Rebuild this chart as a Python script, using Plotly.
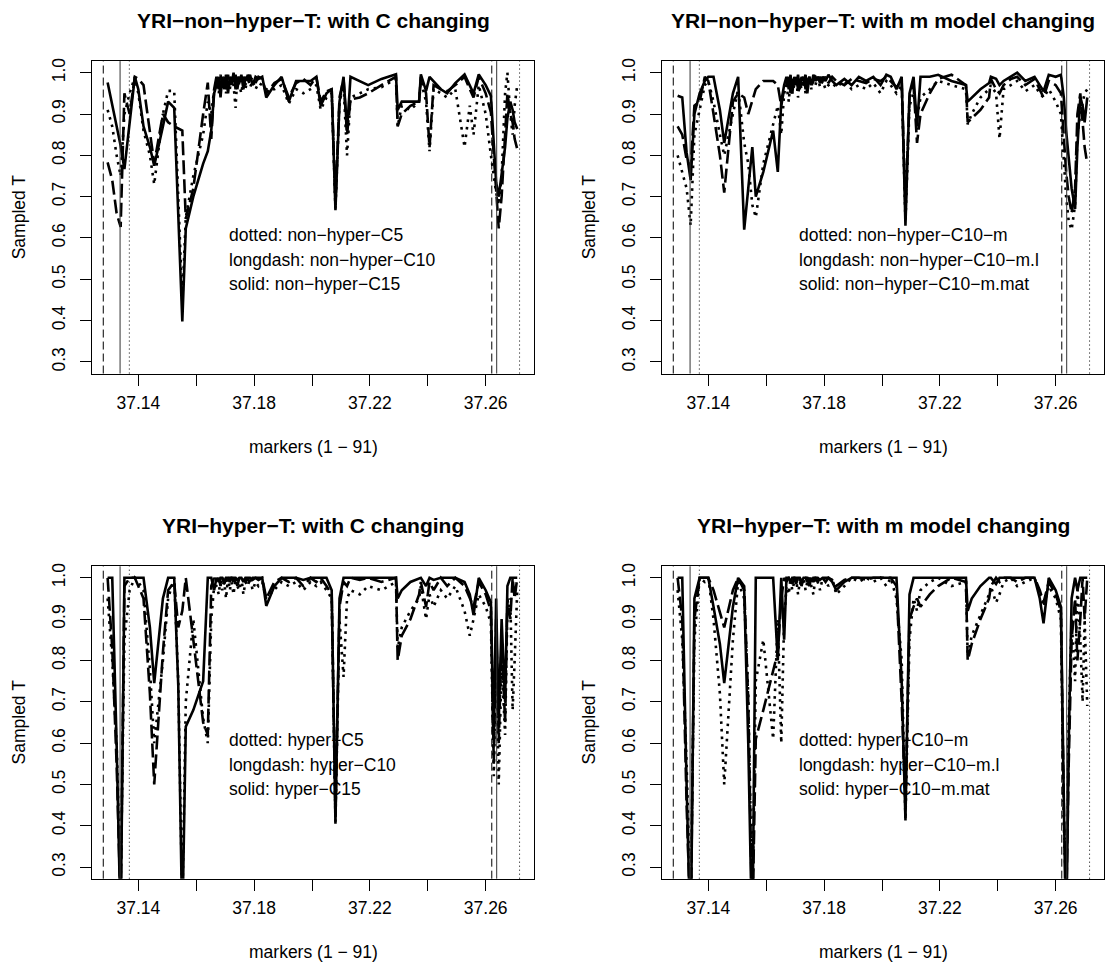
import plotly.graph_objects as go

# marker positions (Mb), 91 markers
pos = [
    37.1294, 37.1310, 37.1325, 37.1339, 37.1352, 37.1370, 37.1388, 37.1400, 37.1418, 37.1440,
    37.1455, 37.1485, 37.1503, 37.1524, 37.1538, 37.1552, 37.1564, 37.1590, 37.1624, 37.1640,
    37.1652, 37.1662,
    37.1670, 37.1678, 37.1684, 37.1690, 37.1697, 37.1703, 37.1710, 37.1716, 37.1722, 37.1729,
    37.1736, 37.1742, 37.1749, 37.1756, 37.1763, 37.1770, 37.1778, 37.1786, 37.1795, 37.1805,
    37.1815, 37.1828,
    37.1842, 37.1870, 37.1895, 37.1920, 37.1945, 37.1970, 37.1995, 37.2015, 37.2030, 37.2050,
    37.2068, 37.2081, 37.2095, 37.2109, 37.2121, 37.2133, 37.2165, 37.2194, 37.2240, 37.2290,
    37.2296, 37.2310, 37.2340, 37.2370, 37.2376, 37.2394, 37.2406, 37.2420, 37.2445, 37.2467,
    37.2495, 37.2527, 37.2545, 37.2558, 37.2576, 37.2600, 37.2618,
    37.2628, 37.2636, 37.2645, 37.2655, 37.2667, 37.2675, 37.2685, 37.2693, 37.2700, 37.2709,
]

# non-hyper, C changing
nh_c5 = [
    0.91, 0.87, 0.80, 0.75, 0.90, 0.95, 0.99, 0.95, 0.86, 0.80, 0.73, 0.90, 0.956, 0.956, 0.70, 0.445,
    0.65, 0.75, 0.85, 0.93, 0.90, 0.96,
    0.98, 0.95, 0.99, 0.96, 0.985, 0.95, 0.99, 0.96, 0.985, 0.97, 0.915, 0.99, 0.97, 0.95, 0.985,
    0.96, 0.99, 0.965, 0.98, 0.96, 0.975, 0.97,
    0.96, 0.96, 0.97, 0.925, 0.96, 0.95, 0.96, 0.97, 0.91, 0.94, 0.95, 0.67, 0.93, 0.97, 0.80, 0.94,
    0.95, 0.96, 0.965, 0.985, 0.87, 0.92, 0.91, 0.93, 0.98, 0.93, 0.81, 0.96, 0.95, 0.94, 0.96, 0.82,
    0.92, 0.85, 0.97, 0.90, 0.80,
    0.75, 0.71, 0.68, 0.75, 0.95, 1.0, 0.90, 0.85, 0.92, 0.97,
]
nh_c10 = [
    0.783, 0.74, 0.66, 0.627, 0.95, 0.90, 0.99, 0.985, 0.97, 0.85, 0.78, 0.90, 0.88, 0.87, 0.865, 0.86,
    0.646, 0.72, 0.90, 0.976, 0.84, 0.96,
    0.99, 0.96, 0.995, 0.97, 0.99, 0.96, 0.995, 0.97, 0.99, 0.975, 0.995, 0.96, 0.99, 0.98, 0.99,
    0.97, 0.995, 0.98, 0.99, 0.975, 0.99, 0.985,
    0.95, 0.975, 0.985, 0.94, 0.975, 0.985, 0.97, 0.99, 0.93, 0.955, 0.96, 0.68, 0.94, 0.985, 0.85,
    0.935, 0.94, 0.95, 0.97, 0.99, 0.87, 0.90, 0.92, 0.93, 0.99, 0.95, 0.82, 0.97, 0.96, 0.955, 0.97,
    0.99, 0.96, 0.94, 0.99, 0.95, 0.904,
    0.80, 0.70, 0.623, 0.70, 0.85, 0.95, 0.90, 0.88, 0.84, 0.815,
]
nh_c15 = [
    0.976, 0.92, 0.87, 0.823, 0.767, 0.88, 0.99, 0.96, 0.87, 0.82, 0.775, 0.87, 0.93, 0.915, 0.66,
    0.398, 0.623, 0.70, 0.78, 0.81, 0.86, 0.95,
    0.97, 0.99, 0.94, 0.99, 0.96, 0.995, 0.95, 0.99, 0.97, 1.0, 0.96, 0.99, 0.975, 0.995, 0.96,
    0.99, 0.98, 0.995, 0.97, 0.99, 0.985, 0.99,
    0.94, 0.97, 0.99, 0.93, 0.98, 0.98, 0.98, 0.99, 0.92, 0.95, 0.96, 0.667, 0.93, 0.99, 0.86, 0.99,
    0.98, 0.97, 0.985, 0.996, 0.91, 0.93, 0.93, 0.93, 0.996, 0.956, 0.99, 0.98, 0.96, 0.95, 0.975,
    0.996, 0.97, 0.95, 0.996, 0.97, 0.944,
    0.84, 0.735, 0.70, 0.76, 0.82, 0.89, 0.93, 0.91, 0.88, 0.864,
]

# non-hyper, m model changing
nh_m = [
    0.80, 0.76, 0.72, 0.63, 0.85, 0.91, 0.97, 0.98, 0.93, 0.85, 0.80, 0.90, 0.96, 0.83, 0.78, 0.68,
    0.65, 0.78, 0.88, 0.92, 0.85, 0.95,
    0.97, 0.93, 0.985, 0.95, 0.97, 0.99, 0.94, 0.98, 0.96, 0.99, 0.95, 0.975, 0.99, 0.96, 0.98,
    0.97, 0.99, 0.965, 0.98, 0.96, 0.97, 0.975,
    0.965, 0.98, 0.96, 0.97, 0.96, 0.975, 0.95, 0.98, 0.97, 0.95, 0.97, 0.64, 0.92, 0.95, 0.89, 0.94,
    0.96, 0.98, 0.97, 0.96, 0.875, 0.90, 0.94, 0.96, 0.97, 0.95, 0.84, 0.96, 0.97, 0.98, 0.955, 0.97,
    0.95, 0.94, 0.96, 0.93, 0.90,
    0.78, 0.70, 0.64, 0.62, 0.68, 0.85, 0.90, 0.93, 0.95, 0.96,
]
nh_m_l = [
    0.87, 0.85, 0.79, 0.77, 0.92, 0.93, 0.99, 0.98, 0.90, 0.80, 0.71, 0.93, 0.95, 0.94, 0.90, 0.93,
    0.96, 0.98, 0.98, 0.97, 0.92, 0.96,
    0.97, 0.99, 0.95, 0.985, 0.97, 0.99, 0.96, 0.985, 0.97, 0.99, 0.96, 0.98, 0.99, 0.965, 0.985,
    0.99, 0.975, 0.99, 0.98, 0.99, 0.975, 0.99,
    0.98, 0.97, 0.985, 0.98, 0.975, 0.985, 0.98, 0.99, 0.98, 0.965, 0.98, 0.67, 0.94, 0.97, 0.83,
    0.90, 0.95, 0.985, 0.995, 0.97, 0.88, 0.89, 0.91, 0.94, 0.985, 0.96, 0.95, 0.97, 0.985, 0.99,
    0.97, 0.985, 0.96, 0.94, 0.98, 0.97, 0.95,
    0.85, 0.76, 0.70, 0.66, 0.72, 0.90, 0.95, 0.87, 0.82, 0.78,
]
nh_m_mat = [
    0.944, 0.94, 0.807, 0.74, 0.90, 0.95, 0.98, 0.99, 0.99, 0.91, 0.83, 0.95, 0.99, 0.62, 0.72, 0.82,
    0.70, 0.76, 0.86, 0.76, 0.93, 0.97,
    0.99, 0.96, 0.995, 0.95, 0.99, 0.97, 0.995, 0.96, 0.99, 0.98, 0.995, 0.95, 0.99, 0.97, 0.995,
    0.98, 0.99, 0.975, 0.99, 0.98, 0.995, 0.98,
    0.97, 0.985, 0.97, 0.99, 0.98, 0.99, 0.97, 0.995, 0.99, 0.96, 0.99, 0.63, 0.95, 0.99, 0.87, 0.99,
    0.99, 0.995, 0.98, 0.97, 0.93, 0.94, 0.96, 0.975, 0.99, 0.985, 0.97, 0.98, 0.99, 1.0, 0.98,
    0.99, 0.97, 0.955, 0.995, 0.99, 0.995,
    0.94, 0.86, 0.80, 0.72, 0.67, 0.82, 0.94, 0.92, 0.88, 0.94,
]

# hyper, C changing
hy_c5 = [
    0.95, 0.80, 0.60, 0.25, 0.85, 0.97, 1.0, 0.99, 0.97, 0.78, 0.60, 0.80, 0.95, 1.0, 0.75, 0.20,
    0.70, 0.90, 0.66, 0.60, 0.90, 0.98,
    0.98, 0.96, 1.0, 0.97, 0.99, 0.95, 1.0, 0.97, 0.99, 0.96, 1.0, 0.98, 0.97, 1.0, 0.96, 0.99,
    0.98, 1.0, 0.97, 0.99, 0.98, 0.99,
    0.95, 0.97, 0.99, 0.98, 0.99, 0.97, 0.99, 0.98, 0.99, 0.97, 0.95, 0.41, 0.90, 0.76, 0.95, 0.97,
    0.96, 0.98, 0.97, 0.99, 0.83, 0.88, 0.92, 0.95, 0.98, 0.90, 0.96, 0.93, 0.97, 0.95, 0.98, 0.92,
    0.86, 0.90, 0.96, 0.93, 0.89,
    0.52, 0.85, 0.50, 0.80, 0.62, 0.92, 0.95, 0.68, 0.80, 0.97,
]
hy_c10 = [
    1.0, 0.83, 0.55, 0.20, 0.98, 1.0, 1.0, 0.98, 0.95, 0.72, 0.50, 0.82, 0.97, 0.99, 0.88, 0.92,
    1.0, 0.85, 0.65, 0.62, 0.98, 1.0,
    0.99, 1.0, 0.98, 1.0, 0.99, 1.0, 0.985, 1.0, 1.0, 0.99, 1.0, 0.98, 1.0, 0.995, 1.0, 0.99,
    1.0, 0.985, 1.0, 1.0, 0.995, 1.0,
    0.95, 0.99, 1.0, 0.99, 1.0, 0.98, 1.0, 0.99, 1.0, 0.98, 0.96, 0.42, 0.93, 0.99, 0.98, 1.0,
    0.995, 1.0, 0.99, 1.0, 0.80, 0.86, 0.90, 0.96, 0.99, 0.93, 0.99, 0.97, 1.0, 0.98, 1.0, 0.98,
    0.95, 0.93, 0.99, 0.96, 0.92,
    0.55, 0.90, 0.60, 0.85, 0.65, 0.95, 0.90, 1.0, 0.95, 1.0,
]
hy_c15 = [
    1.0, 1.0, 0.60, 0.15, 1.0, 1.0, 1.0, 1.0, 1.0, 0.88, 0.745, 0.95, 1.0, 1.0, 0.74, 0.15,
    0.64, 0.68, 0.75, 1.0, 1.0, 0.97,
    1.0, 0.99, 1.0, 1.0, 0.985, 1.0, 1.0, 0.99, 1.0, 1.0, 1.0, 0.995, 1.0, 1.0, 0.99, 1.0,
    1.0, 1.0, 0.995, 1.0, 1.0, 1.0,
    0.932, 0.98, 1.0, 1.0, 1.0, 0.995, 1.0, 1.0, 1.0, 1.0, 0.97, 0.405, 0.95, 1.0, 1.0, 1.0,
    1.0, 1.0, 1.0, 1.0, 0.95, 0.97, 0.99, 1.0, 1.0, 0.98, 1.0, 0.995, 1.0, 1.0, 1.0, 0.99,
    0.96, 0.91, 1.0, 0.97, 0.94,
    0.60, 0.95, 0.65, 0.90, 0.70, 0.98, 1.0, 1.0, 1.0, 1.0,
]

# hyper, m model changing
hy_m = [
    0.97, 0.85, 0.55, 0.20, 0.85, 1.0, 0.99, 1.0, 0.90, 0.72, 0.50, 0.85, 0.99, 0.95, 0.72, 0.20,
    0.75, 0.85, 0.61, 0.90, 0.60, 0.90,
    0.98, 0.96, 1.0, 0.97, 0.99, 1.0, 0.96, 0.99, 0.98, 1.0, 0.97, 0.99, 1.0, 0.98, 0.96, 1.0,
    0.99, 0.97, 1.0, 0.99, 0.98, 1.0,
    0.96, 0.98, 1.0, 0.99, 1.0, 0.99, 1.0, 0.98, 1.0, 0.95, 0.80, 0.415, 0.85, 0.95, 0.92, 0.97,
    0.99, 1.0, 0.98, 0.99, 0.81, 0.86, 0.91, 0.96, 0.98, 0.94, 0.96, 0.99, 1.0, 0.98, 0.99, 1.0,
    0.96, 0.93, 0.98, 0.95, 0.90,
    0.40, 0.25, 0.65, 0.90, 0.75, 0.98, 0.85, 0.70, 0.90, 0.69,
]
hy_m_l = [
    1.0, 0.90, 0.45, 0.15, 0.90, 1.0, 1.0, 1.0, 0.97, 0.92, 0.88, 0.97, 1.0, 0.98, 0.70, 0.15,
    0.61, 0.68, 0.78, 0.82, 0.95, 1.0,
    0.99, 1.0, 1.0, 0.985, 1.0, 1.0, 0.99, 1.0, 0.98, 1.0, 1.0, 0.99, 1.0, 0.985, 1.0, 1.0,
    0.99, 1.0, 1.0, 0.99, 1.0, 0.995,
    0.98, 0.995, 1.0, 1.0, 0.995, 1.0, 1.0, 1.0, 1.0, 0.98, 0.70, 0.45, 0.90, 0.93, 0.95, 0.93,
    0.96, 0.98, 1.0, 0.99, 0.80, 0.84, 0.90, 0.95, 0.98, 1.0, 0.99, 1.0, 1.0, 0.99, 1.0, 1.0,
    0.97, 0.94, 0.99, 0.96, 0.92,
    0.45, 0.20, 0.55, 0.85, 0.95, 0.80, 0.90, 1.0, 0.90, 1.0,
]
hy_m_mat = [
    1.0, 1.0, 0.50, 0.10, 0.95, 1.0, 1.0, 1.0, 0.93, 0.84, 0.745, 0.93, 1.0, 0.97, 0.60, 0.10,
    1.0, 1.0, 1.0, 0.80, 1.0, 0.85,
    1.0, 1.0, 0.99, 1.0, 1.0, 0.985, 1.0, 1.0, 0.99, 1.0, 1.0, 1.0, 0.98, 1.0, 0.99, 1.0,
    1.0, 0.995, 1.0, 1.0, 1.0, 0.99,
    0.97, 0.99, 1.0, 1.0, 1.0, 1.0, 1.0, 1.0, 1.0, 1.0, 0.75, 0.413, 0.96, 1.0, 1.0, 1.0,
    1.0, 1.0, 1.0, 1.0, 0.92, 0.95, 0.98, 1.0, 1.0, 0.985, 1.0, 1.0, 1.0, 1.0, 1.0, 1.0,
    0.95, 0.89, 1.0, 0.97, 0.93,
    0.50, 0.10, 0.60, 0.95, 1.0, 0.97, 1.0, 1.0, 1.0, 1.0,
]

# reference positions drawn as vertical rules in every panel
vline_dashed = [37.1279, 37.2621]
vline_solid = [37.1337, 37.2638]
vline_dotted = [37.1369, 37.2717]

panels = [
    {"title": "YRI−non−hyper−T: with C changing",
     "series": [nh_c5, nh_c10, nh_c15],
     "labels": ["dotted: non−hyper−C5", "longdash: non−hyper−C10", "solid: non−hyper−C15"]},
    {"title": "YRI−non−hyper−T: with m model changing",
     "series": [nh_m, nh_m_l, nh_m_mat],
     "labels": ["dotted: non−hyper−C10−m", "longdash: non−hyper−C10−m.l",
                "solid: non−hyper−C10−m.mat"]},
    {"title": "YRI−hyper−T: with C changing",
     "series": [hy_c5, hy_c10, hy_c15],
     "labels": ["dotted: hyper−C5", "longdash: hyper−C10", "solid: hyper−C15"]},
    {"title": "YRI−hyper−T: with m model changing",
     "series": [hy_m, hy_m_l, hy_m_mat],
     "labels": ["dotted: hyper−C10−m", "longdash: hyper−C10−m.l", "solid: hyper−C10−m.mat"]},
]

x_ticks = [37.14, 37.16, 37.18, 37.20, 37.22, 37.24, 37.26]
x_tick_text = ["37.14", "", "37.18", "", "37.22", "", "37.26"]
y_ticks = [0.3, 0.4, 0.5, 0.6, 0.7, 0.8, 0.9, 1.0]
label_y = [0.607, 0.547, 0.489]

W, H = 1105, 967
FONT = "Liberation Sans, Arial, Helvetica, sans-serif"

# plot boxes in pixels: (left, top, right, bottom)
boxes = [
    (91.7, 58.3, 534.3, 371.7),
    (661.7, 58.3, 1104.3, 371.7),
    (91.7, 565.0, 534.3, 878.4),
    (661.7, 565.0, 1104.3, 878.4),
]

line_styles = [
    dict(dash="2.6px,5px", width=2.6),
    dict(dash="14px,5px", width=2.6),
    dict(dash="solid", width=2.6),
]

fig = go.Figure()
layout = dict(
    width=W, height=H, margin=dict(l=0, r=0, t=0, b=0),
    paper_bgcolor="white", plot_bgcolor="white", showlegend=False,
    font=dict(family=FONT, color="black", size=17.5),
)
annotations = []
shapes = []

for i, (panel, box) in enumerate(zip(panels, boxes)):
    n = "" if i == 0 else str(i + 1)
    xa, ya = "x" + n, "y" + n
    l, t, r, b = box
    layout["xaxis" + n] = dict(
        domain=[l / W, r / W], range=[37.12390, 37.27679], anchor=ya,
        showline=True, mirror=True, linecolor="black", linewidth=1,
        ticks="outside", ticklen=11, tickwidth=1, tickcolor="black",
        tickvals=x_ticks, ticktext=x_tick_text, showgrid=False, zeroline=False,
        ticklabelstandoff=2,
        tickfont=dict(family=FONT, size=17.5, color="black"),
    )
    layout["yaxis" + n] = dict(
        domain=[1 - b / H, 1 - t / H], range=[0.272, 1.028], anchor=xa,
        showline=True, mirror=True, linecolor="black", linewidth=1,
        ticks="outside", ticklen=11, tickwidth=1, tickcolor="black",
        tickvals=y_ticks, tickformat=".1f", tickangle=-90, showgrid=False, zeroline=False,
        ticklabelstandoff=8,
        tickfont=dict(family=FONT, size=17.5, color="black"),
    )
    for vals, st in zip(panel["series"], line_styles):
        fig.add_trace(go.Scatter(
            x=pos, y=vals, mode="lines", xaxis=xa, yaxis=ya,
            line=dict(color="black", **st), hoverinfo="skip",
        ))
    for xv in vline_dashed:
        shapes.append(dict(type="line", xref=xa, yref=ya + " domain", x0=xv, x1=xv, y0=0, y1=1,
                           line=dict(color="black", width=1, dash="8px,4px")))
    for xv in vline_solid:
        shapes.append(dict(type="line", xref=xa, yref=ya + " domain", x0=xv, x1=xv, y0=0, y1=1,
                           line=dict(color="#333333", width=1)))
    for xv in vline_dotted:
        shapes.append(dict(type="line", xref=xa, yref=ya + " domain", x0=xv, x1=xv, y0=0, y1=1,
                           line=dict(color="black", width=1, dash="1px,3px")))
    for txt, yv in zip(panel["labels"], label_y):
        annotations.append(dict(text=txt, x=37.1705, y=yv, xref=xa, yref=ya,
                                xanchor="left", yanchor="middle", showarrow=False,
                                font=dict(family=FONT, size=17.5, color="black")))
    cx = (l + r) / 2
    annotations.append(dict(text="<b>" + panel["title"] + "</b>", x=cx / W, y=1 - (t - 41) / H,
                            xref="paper", yref="paper", xanchor="center", yanchor="middle",
                            showarrow=False, font=dict(family=FONT, size=21, color="black")))
    annotations.append(dict(text="markers (1 − 91)", x=cx / W, y=1 - (b + 74) / H,
                            xref="paper", yref="paper", xanchor="center", yanchor="middle",
                            showarrow=False, font=dict(family=FONT, size=17.5, color="black")))
    annotations.append(dict(text="Sampled T", x=(l - 72.7) / W, y=1 - ((t + b) / 2) / H,
                            xref="paper", yref="paper", xanchor="center", yanchor="middle",
                            textangle=-90, showarrow=False,
                            font=dict(family=FONT, size=17.5, color="black")))

layout["annotations"] = annotations
layout["shapes"] = shapes
fig.update_layout(**layout)
fig.write_html("out.html")
